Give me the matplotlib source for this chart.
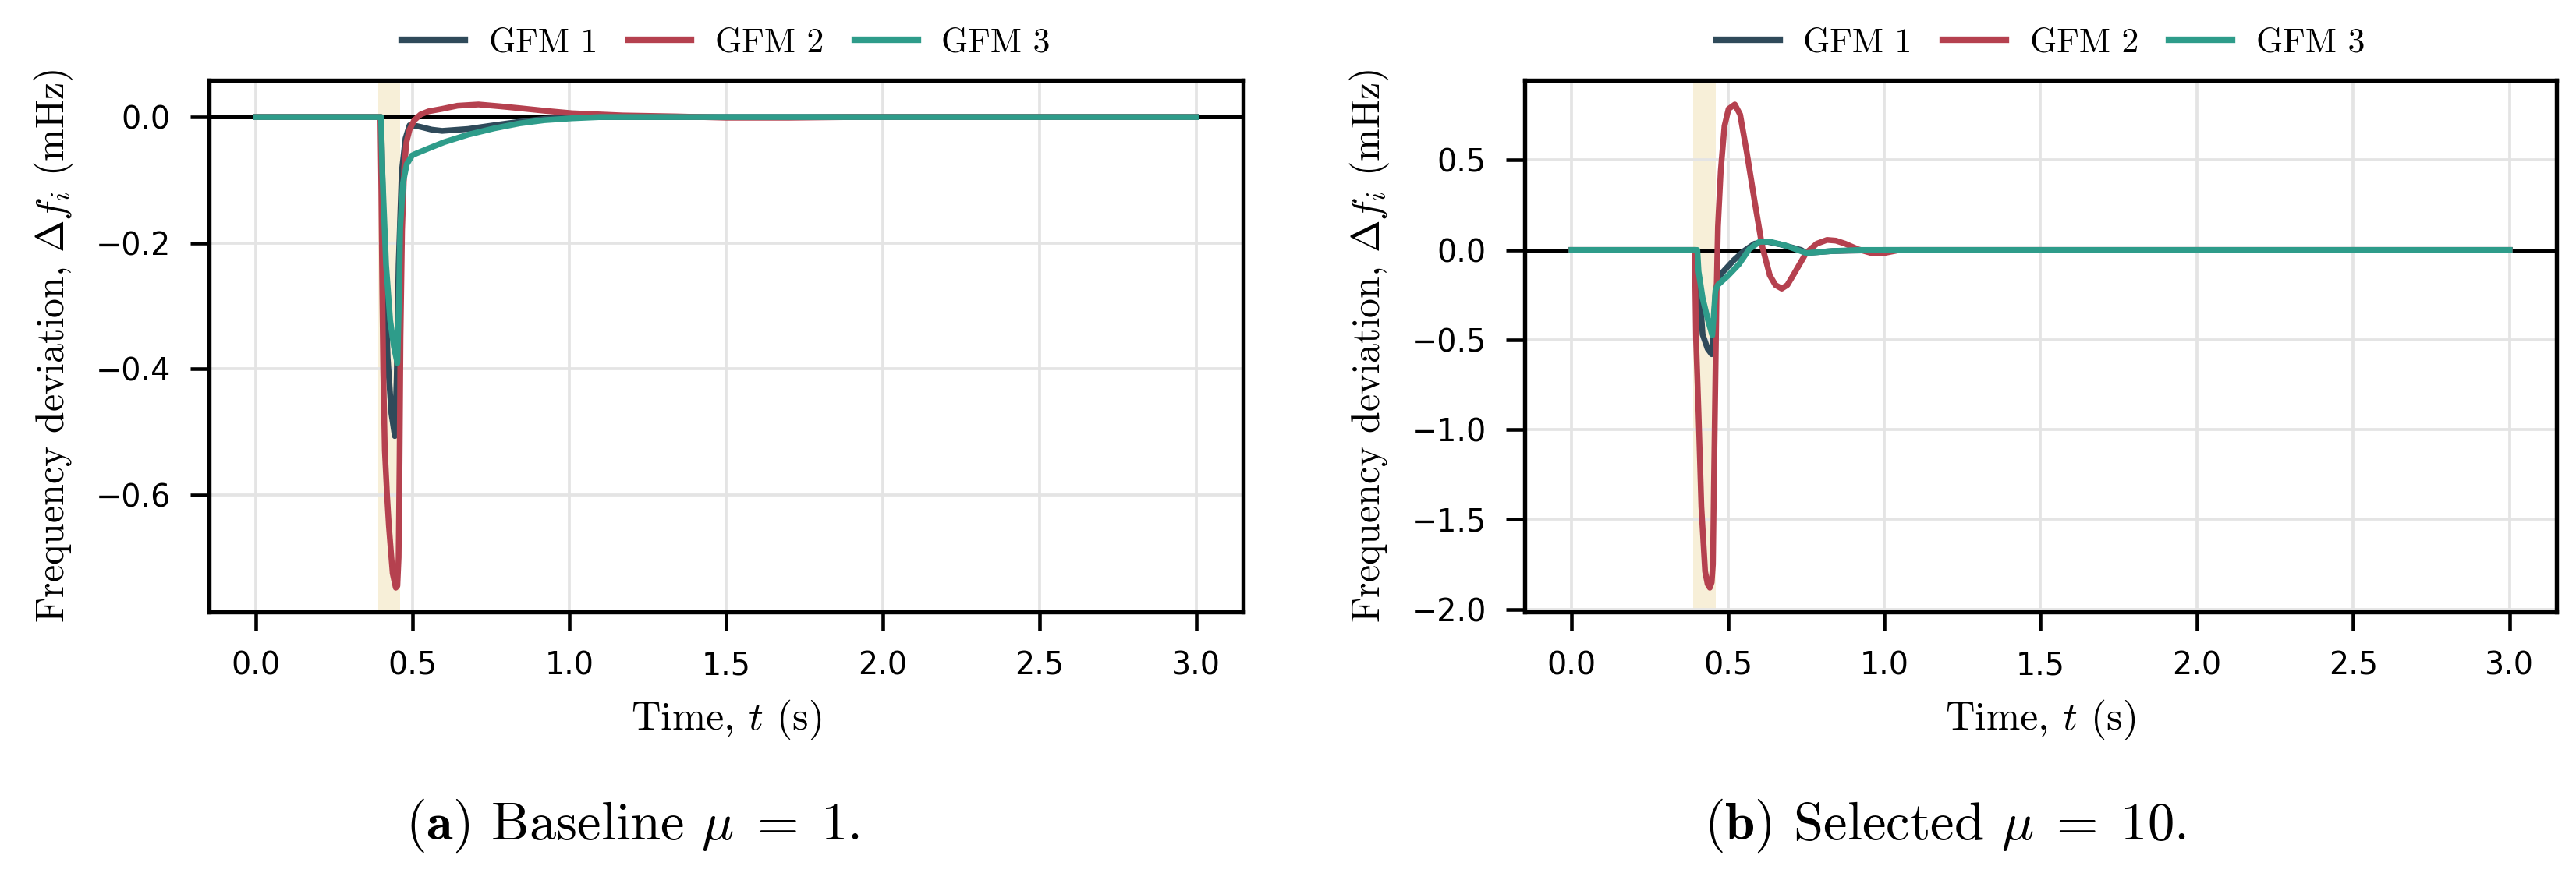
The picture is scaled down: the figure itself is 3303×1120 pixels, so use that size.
import matplotlib
matplotlib.use("Agg")
import matplotlib.pyplot as plt

# ── style ──────────────────────────────────────────────────────────────
plt.rcParams.update({
    "font.family": "DejaVu Sans",
    "font.size": 9.5,
    "mathtext.fontset": "cm",
    "axes.linewidth": 1.3,
    "xtick.major.width": 1.1,
    "ytick.major.width": 1.1,
    "xtick.major.size": 5.8,
    "ytick.major.size": 5.8,
    "xtick.major.pad": 6,
    "ytick.major.pad": 6,
})

LABEL_FONT = "cmr10"
C_GFM = ["#2F4A5A", "#B5414F", "#2E9C8A"]
C_BAND = "#F7EFD8"
C_GRID = "#E4E4E4"

series_names = ["GFM 1", "GFM 2", "GFM 3"]
fault_window = (0.39, 0.46)

# ── data: baseline mu = 1 ──────────────────────────────────────────────
a_t_gfm1 = [0.0, 0.399, 0.403, 0.407, 0.414, 0.420, 0.432, 0.443, 0.449, 0.455,
            0.465, 0.477, 0.490, 0.510, 0.528, 0.56, 0.594, 0.677, 0.76, 0.842,
            0.92, 1.008, 3.0]
a_v_gfm1 = [0.0, 0.0, -0.09, -0.176, -0.29, -0.382, -0.471, -0.507, -0.412, -0.235,
            -0.087, -0.034, -0.013, -0.014, -0.016, -0.020, -0.022, -0.019, -0.013, -0.0075,
            -0.003, 0.0, 0.0]

a_t_gfm2 = [0.0, 0.397, 0.400, 0.403, 0.406, 0.411, 0.418, 0.424, 0.436, 0.446,
            0.451, 0.455, 0.458, 0.461, 0.466, 0.473, 0.480, 0.490, 0.505, 0.525,
            0.55, 0.594, 0.643, 0.71, 0.78, 0.842, 0.92, 1.008, 1.17, 1.34,
            1.5, 1.7, 1.9, 3.0]
a_v_gfm2 = [0.0, 0.0, -0.12, -0.28, -0.40, -0.53, -0.60, -0.65, -0.725, -0.748,
            -0.745, -0.70, -0.55, -0.35, -0.18, -0.08, -0.04, -0.02, -0.005, 0.004,
            0.009, 0.013, 0.018, 0.020, 0.017, 0.014, 0.010, 0.006, 0.0025, 0.001,
            -0.001, -0.001, 0.0, 0.0]

a_t_gfm3 = [0.0, 0.399, 0.403, 0.415, 0.428, 0.440, 0.451, 0.456, 0.460, 0.469,
            0.481, 0.498, 0.511, 0.55, 0.6, 0.677, 0.76, 0.842, 0.92, 1.008,
            1.1, 3.0]
a_v_gfm3 = [0.0, 0.0, -0.087, -0.235, -0.323, -0.365, -0.391, -0.294, -0.176, -0.105,
            -0.075, -0.061, -0.058, -0.050, -0.040, -0.028, -0.018, -0.010, -0.005, -0.002,
            0.0, 0.0]

# ── data: selected mu = 10 ─────────────────────────────────────────────
b_t_gfm1 = [0.0, 0.398, 0.41, 0.419, 0.435, 0.448, 0.452, 0.46, 0.468, 0.485,
            0.518, 0.551, 0.585, 0.626, 0.668, 0.734, 0.75, 0.834, 1.0, 3.0]
b_v_gfm1 = [0.0, 0.0, -0.246, -0.47, -0.55, -0.58, -0.496, -0.246, -0.16, -0.12,
            -0.058, -0.006, 0.035, 0.046, 0.031, 0.0, -0.017, -0.006, 0.0, 0.0]

b_t_gfm2 = [0.0, 0.394, 0.398, 0.406, 0.415, 0.427, 0.435, 0.442, 0.448, 0.452,
            0.455, 0.46, 0.464, 0.468, 0.477, 0.489, 0.502, 0.522, 0.539, 0.56,
            0.585, 0.609, 0.634, 0.652, 0.672, 0.69, 0.709, 0.75, 0.784, 0.817,
            0.845, 0.875, 0.916, 0.958, 1.0, 1.05, 3.0]
b_v_gfm2 = [0.0, 0.0, -0.496, -0.91, -1.43, -1.79, -1.86, -1.88, -1.85, -1.75,
            -1.33, -0.70, -0.20, 0.13, 0.44, 0.69, 0.785, 0.81, 0.754, 0.546,
            0.275, 0.025, -0.142, -0.195, -0.215, -0.195, -0.14, -0.017, 0.035, 0.056,
            0.052, 0.035, 0.004, -0.017, -0.017, 0.0, 0.0]

b_t_gfm3 = [0.0, 0.402, 0.406, 0.419, 0.436, 0.45, 0.456, 0.46, 0.468, 0.501,
            0.535, 0.568, 0.601, 0.634, 0.684, 0.75, 0.834, 0.916, 3.0]
b_v_gfm3 = [0.0, 0.0, -0.12, -0.267, -0.39, -0.475, -0.33, -0.225, -0.194, -0.142,
            -0.08, 0.004, 0.046, 0.046, 0.025, -0.017, -0.006, 0.0, 0.0]

panels = [
    ([(a_t_gfm1, a_v_gfm1), (a_t_gfm2, a_v_gfm2), (a_t_gfm3, a_v_gfm3)],
     r"($\mathbf{a}$) Baseline $\mu\;=\;1$."),
    ([(b_t_gfm1, b_v_gfm1), (b_t_gfm2, b_v_gfm2), (b_t_gfm3, b_v_gfm3)],
     r"($\mathbf{b}$) Selected $\mu\;=\;10$."),
]

# ── figure ─────────────────────────────────────────────────────────────
W, H = 3303, 1120
fig = plt.figure(figsize=(W / 300, H / 300), dpi=300)
ax_rects = [
    [268 / W, 1 - 785 / H, (1594 - 268) / W, (785 - 103) / H],
    [1955 / W, 1 - 785 / H, (3278 - 1955) / W, (785 - 103) / H],
]
caption_x = [811 / W, 2494 / W]

for (curves, caption), rect, cx in zip(panels, ax_rects, caption_x):
    ax = fig.add_axes(rect)
    ax.axvspan(*fault_window, color=C_BAND, lw=0, zorder=0)
    ax.axhline(0, color="black", lw=1.2, zorder=1)
    for (t, v), name, col in zip(curves, series_names, C_GFM):
        ax.plot(t, v, color=col, lw=1.8, label=name, zorder=2)
    ax.grid(True, color=C_GRID, lw=0.9, zorder=0)
    ax.set_axisbelow(True)
    ax.set_xticks([0.0, 0.5, 1.0, 1.5, 2.0, 2.5, 3.0])
    ax.set_xlabel(r"Time, $t$ (s)", fontfamily=LABEL_FONT, fontsize=12.5, labelpad=5)
    ax.set_ylabel(r"Frequency deviation, $\Delta f_i$ (mHz)",
                  fontfamily=LABEL_FONT, fontsize=12, labelpad=6)
    leg = ax.legend(loc="lower center", bbox_to_anchor=(0.5, 1.015), ncol=3,
                    frameon=False, handlelength=1.85, handletextpad=0.7,
                    columnspacing=0.9, borderaxespad=0,
                    prop={"family": LABEL_FONT, "size": 10.5})
    for line in leg.get_lines():
        line.set_linewidth(2.0)
    fig.text(cx, 0.054, caption, ha="center", va="center",
             fontfamily=LABEL_FONT, fontsize=16.5)

fig.savefig("out.png", dpi=300)
